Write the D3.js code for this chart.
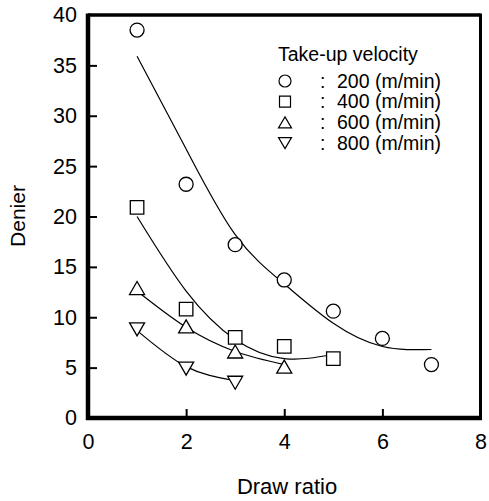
<!DOCTYPE html>
<html>
<head>
<meta charset="utf-8">
<script src="https://cdn.jsdelivr.net/npm/d3@7"></script>
<style>
  html, body { margin: 0; padding: 0; background: #fff; }
  svg { display: block; }
  text { font-family: "Liberation Sans", Arial, sans-serif; fill: #000; }
</style>
</head>
<body>
<svg id="chart" width="489" height="501"></svg>
<script>
// ---- data ----
const xTicks = [0, 2, 4, 6, 8];
const yTicks = [0, 5, 10, 15, 20, 25, 30, 35, 40];

const series = ["200", "400", "600", "800"];
const seriesLabels = ["200 (m/min)", "400 (m/min)", "600 (m/min)", "800 (m/min)"];
const seriesSymbols = ["circle", "square", "triangleUp", "triangleDown"];

const ratio200 = [1, 2, 3, 4, 5, 6, 7];
const denier200 = [38.5, 23.2, 17.2, 13.7, 10.6, 7.9, 5.3];
const ratio400 = [1, 2, 3, 4, 5];
const denier400 = [20.9, 10.8, 8.0, 7.1, 5.9];
const ratio600 = [1, 2, 3, 4];
const denier600 = [12.9, 9.1, 6.6, 5.1];
const ratio800 = [1, 2, 3];
const denier800 = [8.8, 4.9, 3.5];

// fitted curves
const fitX200 = [1, 2, 3, 4, 5, 6, 7];
const fitY200 = [35.9, 26.7, 18.2, 13.3, 9.4, 7.1, 6.8];
const fitX400 = [1, 2, 3, 4, 5];
const fitY400 = [20.0, 12.6, 7.8, 5.9, 6.3];
const fitX600 = [1.05, 2, 3, 4];
const fitY600 = [12.4, 9.0, 6.6, 5.3];
const fitX800 = [1.02, 2, 2.95];
const fitY800 = [8.6, 5.1, 3.75];

const pointsData = [[ratio200, denier200], [ratio400, denier400], [ratio600, denier600], [ratio800, denier800]];
const fitData = [[fitX200, fitY200], [fitX400, fitY400], [fitX600, fitY600], [fitX800, fitY800]];

// ---- layout ----
const svg = d3.select("#chart");
const x = d3.scaleLinear().domain([0, 8]).range([88, 480.5]);
const y = d3.scaleLinear().domain([0, 40]).range([418, 15]);

function symbolPath(kind, s) {
  if (kind === "circle") { const p = d3.path(); p.arc(0, 0, s.r, 0, 2 * Math.PI); p.closePath(); return p.toString(); }
  if (kind === "square") { const h = s.sq / 2; return `M${-h},${-h}H${h}V${h}H${-h}Z`; }
  const w = s.tw / 2, h = s.th / 2;
  if (kind === "triangleUp") return `M0,${-h}L${w},${h}L${-w},${h}Z`;
  return `M0,${h}L${w},${-h}L${-w},${-h}Z`;
}
const plotSize = { r: 7, sq: 13.5, tw: 15, th: 13 };
const legendSize = { r: 6, sq: 11, tw: 13, th: 11 };

// fitted curves
const line = d3.line().x(d => x(d[0])).y(d => y(d[1])).curve(d3.curveNatural);
fitData.forEach(([xs, ys]) => {
  svg.append("path")
    .attr("d", line(xs.map((v, i) => [v, ys[i]])))
    .attr("fill", "none").attr("stroke", "#000").attr("stroke-width", 1.2);
});

// markers
pointsData.forEach(([xs, ys], si) => {
  svg.append("g").selectAll("path").data(xs.map((v, i) => [v, ys[i]])).join("path")
    .attr("transform", d => `translate(${x(d[0])},${y(d[1])})`)
    .attr("d", symbolPath(seriesSymbols[si], plotSize))
    .attr("fill", "#fff").attr("stroke", "#000").attr("stroke-width", 1.3);
});

// frame
svg.append("line").attr("x1", x(0)).attr("x2", x(8)).attr("y1", y(40)).attr("y2", y(40)).attr("stroke", "#000").attr("stroke-width", 3.5);
svg.append("line").attr("x1", x(8)).attr("x2", x(8)).attr("y1", y(40) - 1.5).attr("y2", y(0)).attr("stroke", "#000").attr("stroke-width", 3);

// axes
const xAxis = d3.axisBottom(x).tickValues(xTicks).tickSizeInner(-9).tickSizeOuter(0).tickPadding(16);
const gx = svg.append("g").attr("transform", `translate(0,${y(0)})`).call(xAxis);
gx.select(".domain").attr("stroke-width", 4.5).attr("d", `M${x(0) - 2},0H${x(8) + 1.5}`);
gx.selectAll(".tick line").attr("stroke-width", 2).filter(d => d === 0 || d === 8).remove();
gx.selectAll(".tick text").attr("font-size", 21.5).attr("font-family", "Liberation Sans, Arial, sans-serif").attr("dy", "0.71em");

const yAxis = d3.axisLeft(y).tickValues(yTicks).tickSizeInner(-9).tickSizeOuter(0).tickPadding(11);
const gy = svg.append("g").attr("transform", `translate(${x(0)},0)`).call(yAxis);
gy.select(".domain").attr("stroke-width", 4.5).attr("d", `M0,${y(0) + 2}V${y(40) - 1.5}`);
gy.selectAll(".tick line").attr("stroke-width", 2).filter(d => d === 0 || d === 40).remove();
gy.selectAll(".tick text").attr("font-size", 21.5).attr("font-family", "Liberation Sans, Arial, sans-serif");

// axis titles
svg.append("text").attr("x", 287).attr("y", 494).attr("text-anchor", "middle").attr("font-size", 22).text("Draw ratio");
svg.append("text").attr("transform", "translate(25,216) rotate(-90)").attr("text-anchor", "middle").attr("font-size", 21).text("Denier");

// legend
const lg = svg.append("g");
lg.append("text").attr("x", 278).attr("y", 61).attr("font-size", 19.5).text("Take-up velocity");
seriesLabels.forEach((lab, i) => {
  const by = 87.5 + i * 20.7;
  lg.append("path").attr("transform", `translate(285,${by - 6.5})`)
    .attr("d", symbolPath(seriesSymbols[i], legendSize))
    .attr("fill", "#fff").attr("stroke", "#000").attr("stroke-width", 1.2);
  lg.append("text").attr("x", 320).attr("y", by).attr("font-size", 19.5).text(":");
  lg.append("text").attr("x", 337).attr("y", by).attr("font-size", 19.5).text(lab);
});
</script>
</body>
</html>
